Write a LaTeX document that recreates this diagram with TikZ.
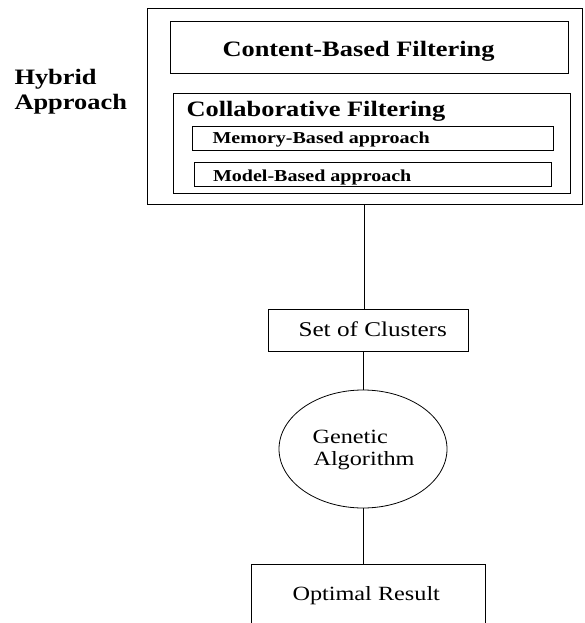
\documentclass[tikz,border=0pt]{standalone}
\usepackage{fontspec}
\setmainfont{Liberation Serif}[FakeStretch=1.2]
\usetikzlibrary{shapes.geometric}
\begin{document}
\begin{tikzpicture}[x=1pt,y=-1pt,line width=1pt,
  box/.style={draw,rectangle,inner sep=0pt},
  lbl/.style={anchor=base west,inner sep=0pt},
  bigb/.style={font=\fontsize{22}{24}\selectfont\bfseries},
  smallb/.style={font=\fontsize{16.7}{18}\selectfont\bfseries},
  reg/.style={font=\fontsize{21}{24}\selectfont},
  regs/.style={font=\fontsize{20.2}{24}\selectfont}]
\useasboundingbox (0,0) rectangle (584,623);
\clip (0,0) rectangle (584,623);
% boxes
\node[box,minimum width=435pt,minimum height=195pt] (outer) at (364.5,106.5) {};
\node[box,minimum width=398pt,minimum height=52pt] (cbf) at (369,48) {};
\node[box,minimum width=397pt,minimum height=99pt] (collab) at (371.5,143.5) {};
\node[box,minimum width=361pt,minimum height=24pt] (mem) at (372.5,138) {};
\node[box,minimum width=357pt,minimum height=24pt] (model) at (372.5,174) {};
\node[box,minimum width=200pt,minimum height=42pt] (clusters) at (368,330) {};
\node[draw,ellipse,line width=0.8pt,minimum width=168pt,minimum height=118pt,inner sep=0pt] (ga) at (363,449) {};
\node[box,minimum width=234pt,minimum height=76pt] (opt) at (368,602) {};
% labels
\node[lbl,bigb] (hyb1) at (14,85) {Hybrid};
\node[lbl,bigb] (hyb2) at (14,110) {Approach};
\node[lbl,bigb] (cbft) at (222,57) {Content-Based Filtering};
\node[lbl,bigb] (collabt) at (186,117) {Collaborative Filtering};
\node[lbl,smallb] (memt) at (212,143.5) {Memory-Based approach};
\node[lbl,smallb] (modelt) at (212.5,181.5) {Model-Based approach};
\node[lbl,reg] (clust) at (298,336.5) {Set of Clusters};
\node[lbl,regs] (ga1) at (312,443.3) {Genetic};
\node[lbl,regs] (ga2) at (313,465) {Algorithm};
\node[lbl,regs] (optt) at (292,600) {Optimal Result};
% connectors
\draw (outer.south) -- (outer.south |- clusters.north);
\draw (ga.north |- clusters.south) -- (ga.north);
\draw (ga.south) -- (ga.south |- opt.north);
\end{tikzpicture}
\end{document}
